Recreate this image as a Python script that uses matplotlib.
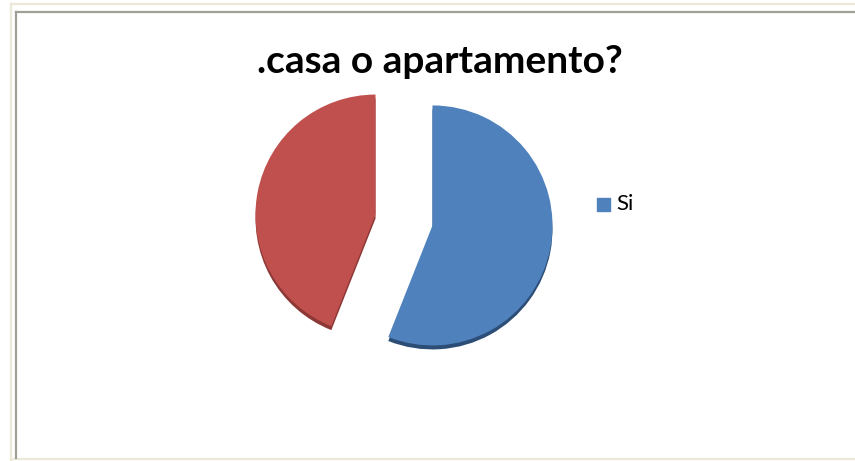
import matplotlib.pyplot as plt
from matplotlib.patches import Rectangle
from matplotlib.lines import Line2D

# data
labels = ["Si", "No"]
values = [56, 44]
colors = ["#4F81BD", "#C0504D"]
shadow_colors = ["#2C4D75", "#8C3836"]
title = ".casa o apartamento?"

W, H = 855, 461
fig = plt.figure(figsize=(W / 100, H / 100), dpi=100)
ax = fig.add_axes([0, 0, 1, 1])

# frame lines (beige outer, gray inner)
beige = "#ECE9D8"
gray = "#A0A096"
ax.add_line(Line2D([11, W], [H - 4, H - 4], color=beige, lw=1.6))
ax.add_line(Line2D([11, 11], [H - 4, 0], color=beige, lw=1.6))
ax.add_line(Line2D([11, W], [2, 2], color=beige, lw=1.6))
ax.add_line(Line2D([16, W], [H - 12, H - 12], color=gray, lw=1.6))
ax.add_line(Line2D([16, 16], [H - 12, 3], color=gray, lw=1.6))

cx, cy, r = 404, H - 220, 120
expl = [29, 29]  # pie explode is in data units here (pixels)

# darker copy below to fake the 3d rim
ax.pie(values, colors=shadow_colors, startangle=90, counterclock=False,
       explode=expl, radius=r, center=(cx, cy - 4), frame=True)
ax.pie(values, colors=colors, startangle=90, counterclock=False,
       explode=expl, radius=r, center=(cx, cy), frame=True)
ax.set_xlim(0, W)
ax.set_ylim(0, H)
ax.set_aspect("equal")
ax.axis("off")

ax.text(440, H - 73, title, ha="center", va="baseline", fontsize=28,
        fontweight="bold", family="Lato", color="black")

# legend with only the first entry, as in the source
ax.add_patch(Rectangle((597, H - 211), 13, 13, color=colors[0]))
ax.text(616, H - 204.5, labels[0], ha="left", va="center", fontsize=16,
        family="Lato", color="black")

plt.savefig("out.png", dpi=100)
